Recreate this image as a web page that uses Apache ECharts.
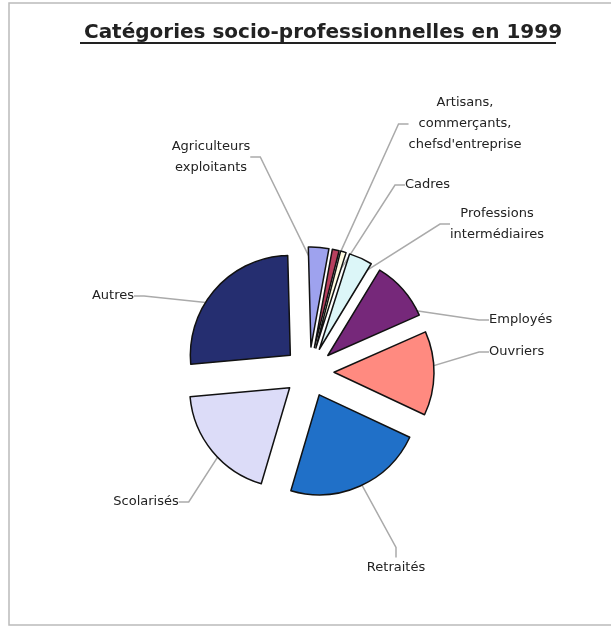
<!DOCTYPE html>
<html>
<head>
<meta charset="utf-8">
<script src="https://cdn.jsdelivr.net/npm/echarts@6/dist/echarts.min.js"></script>
<style>
html,body{margin:0;padding:0;background:#fff;}
#chart{width:611px;height:630px;}
</style>
</head>
<body>
<div id="chart"></div>
<script>
// Data (percent of population, 1999)
const categories = [
  "Agriculteurs\nexploitants",
  "Artisans,\ncommerçants,\nchefsd'entreprise",
  "Cadres",
  "Professions\nintermédiaires",
  "Employés",
  "Ouvriers",
  "Retraités",
  "Scolarisés",
  "Autres"
];
const values = [3.3, 1.1, 0.9, 3.8, 9.7, 13.6, 22.6, 19.0, 26.0];
const colors = ["#9ea2ee", "#b8405e", "#fffbe2", "#dcf6f8", "#76287a", "#ff8a80", "#2070c8", "#dcdcf8", "#252e70"];

// label anchor placements (layout only)
const labelPlace = [
  {x: 211, y: 157, align: 'center'},
  {x: 465, y: 124, align: 'center'},
  {x: 405, y: 185, align: 'left'},
  {x: 497, y: 224, align: 'center'},
  {x: 489, y: 320, align: 'left'},
  {x: 489, y: 352, align: 'left'},
  {x: 396, y: 568, align: 'center'},
  {x: 146, y: 502, align: 'center'},
  {x: 113, y: 296, align: 'center'}
];

const FONT = 'DejaVu Sans, Liberation Sans, Arial, sans-serif';
const pieCenter = [309, 372];
const pieRadius = 100;
const startAng = 91.5;

const chart = echarts.init(document.getElementById('chart'), null, {renderer: 'canvas'});
const option = {
  animation: false,
  backgroundColor: '#ffffff',
  title: {
    text: 'Catégories socio-professionnelles en 1999',
    left: 318,
    top: 18,
    textAlign: 'center',
    textStyle: {
      fontFamily: FONT,
      fontSize: 20,
      fontWeight: 'bold',
      color: '#222'
    }
  },
  graphic: [
    {type: 'line', shape: {x1: 80, y1: 43, x2: 556, y2: 43}, style: {stroke: '#222', lineWidth: 2}},
    {type: 'rect', shape: {x: 9, y: 3, width: 640, height: 622}, style: {fill: null, stroke: '#bbb', lineWidth: 1.5}}
  ],
  series: [
    {
      // exploded slices
      type: 'pie',
      z: 3,
      center: pieCenter,
      radius: pieRadius,
      startAngle: startAng,
      clockwise: true,
      selectedMode: 'multiple',
      selectedOffset: 25,
      silent: true,
      emphasis: {disabled: true},
      itemStyle: {borderColor: '#111', borderWidth: 1.5},
      label: {show: false},
      labelLine: {show: false},
      data: categories.map((c, i) => ({
        name: c,
        value: values[i],
        selected: true,
        itemStyle: {color: colors[i]}
      }))
    },
    {
      // labels + leader lines (invisible sectors underneath)
      type: 'pie',
      z: 2,
      center: pieCenter,
      radius: pieRadius,
      startAngle: startAng,
      clockwise: true,
      silent: true,
      avoidLabelOverlap: false,
      emphasis: {disabled: true},
      itemStyle: {color: 'rgba(0,0,0,0)', borderWidth: 0},
      label: {
        show: true,
        position: 'outside',
        fontFamily: FONT,
        fontSize: 13,
        color: '#222',
        lineHeight: 21,
        formatter: p => p.name
      },
      labelLine: {
        show: true,
        length: 10,
        length2: 10,
        lineStyle: {color: '#aaa', width: 1.5}
      },
      labelLayout: function (params) {
        const lp = labelPlace[params.dataIndex];
        return {x: lp.x, y: lp.y, align: lp.align, verticalAlign: 'middle'};
      },
      data: categories.map((c, i) => ({name: c, value: values[i]}))
    }
  ]
};
chart.setOption(option);
</script>
</body>
</html>
